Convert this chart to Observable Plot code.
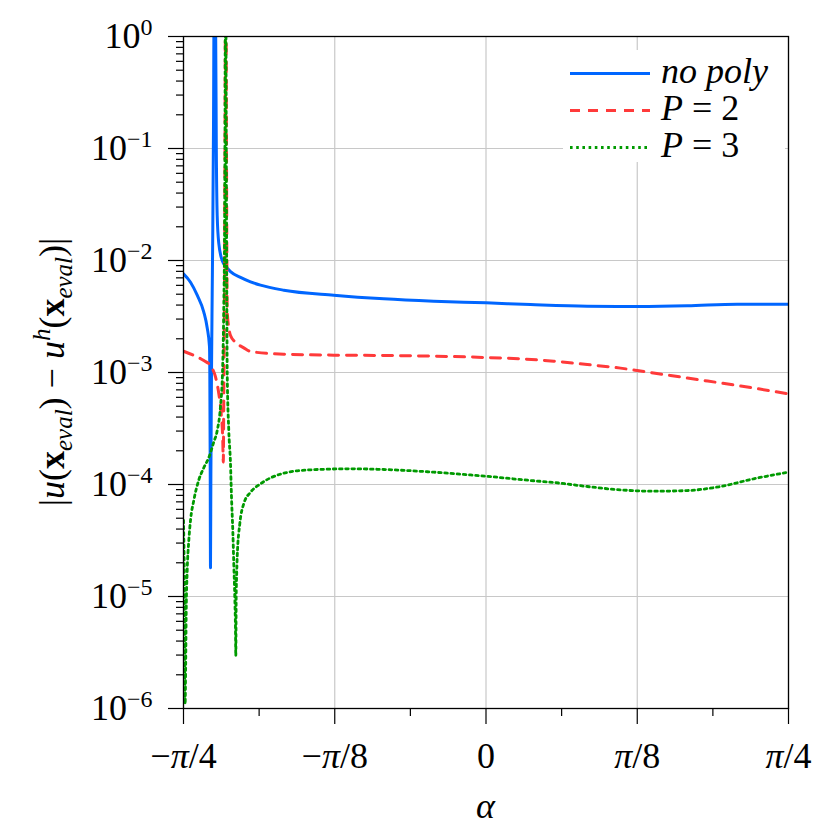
<!DOCTYPE html>
<html><head><meta charset="utf-8">
<script src="https://cdn.jsdelivr.net/npm/d3@7"></script>
<script src="https://cdn.jsdelivr.net/npm/@observablehq/plot@0.6"></script>
<style>
body{margin:0;background:#fff}
</style>
</head><body><div id="chart"></div>
<script>
// alpha in radians, error as log10 value
const noPolyAlpha = [-0.7854,-0.7672,-0.7498,-0.7327,-0.7239,-0.7179,-0.7171,-0.7161,-0.7153,-0.7143,-0.7127,-0.7109,-0.7093,-0.7075,-0.7059,-0.7038,-0.7018,-0.7002,-0.6979,-0.6937,-0.6849,-0.6738,-0.6634,-0.6374,-0.6114,-0.5855,-0.5250,-0.3952,-0.2653,-0.1355,0.0000,0.1156,0.2628,0.3926,0.5224,0.6522,0.7854];
const noPolyLogErr = [-2.119,-2.194,-2.31,-2.46,-2.60,-2.77,-3.0,-3.8,-4.744,-3.9,-3.0,-2.3,-1.7,-0.8,0.3,0.3,0.0,-1.0,-1.6,-1.85,-2.0,-2.06,-2.10,-2.15,-2.19,-2.22,-2.265,-2.31,-2.342,-2.363,-2.378,-2.393,-2.408,-2.411,-2.405,-2.39,-2.39];

const p2Alpha = [-0.7854,-0.7586,-0.7327,-0.7153,-0.7023,-0.6937,-0.6875,-0.6834,-0.6821,-0.6808,-0.6789,-0.6776,-0.6764,-0.6751,-0.6738,-0.6728,-0.6719,-0.6678,-0.6634,-0.6504,-0.6288,-0.6114,-0.5250,-0.3952,-0.2653,-0.1355,0.0000,0.0896,0.1761,0.2628,0.3492,0.3926,0.4790,0.5656,0.6522,0.7646,0.7854];
const p2LogErr = [-2.81,-2.848,-2.893,-2.94,-3.04,-3.19,-3.37,-3.61,-3.80,-3.2,-2.2,-1.0,0.3,0.3,-1.0,-2.0,-2.45,-2.6,-2.67,-2.73,-2.78,-2.8125,-2.837,-2.845,-2.848,-2.854,-2.866,-2.878,-2.899,-2.929,-2.961,-2.982,-3.027,-3.071,-3.116,-3.179,-3.192];

const p3Alpha = [-0.7854,-0.7830,-0.7812,-0.7797,-0.7784,-0.7758,-0.7716,-0.7672,-0.7586,-0.7457,-0.7327,-0.7197,-0.7067,-0.6979,-0.6893,-0.6841,-0.6808,-0.6789,-0.6776,-0.6767,-0.6756,-0.6743,-0.6733,-0.6728,-0.6719,-0.6678,-0.6634,-0.6608,-0.6574,-0.6548,-0.6522,-0.6504,-0.6496,-0.6486,-0.6473,-0.6460,-0.6392,-0.6288,-0.6114,-0.5855,-0.5250,-0.4557,-0.3518,-0.2653,-0.1355,0.0000,0.1156,0.1761,0.2628,0.3492,0.4357,0.5224,0.6088,0.6953,0.7854];
const p3LogErr = [-4.32,-4.95,-5.96,-5.6,-5.15,-4.77,-4.5,-4.32,-4.14,-3.96,-3.85,-3.76,-3.62,-3.52,-3.3,-3.0,-2.42,-1.82,-0.8,0.3,0.3,-1.0,-2.0,-2.42,-3.0,-3.52,-3.81,-4.11,-4.41,-4.71,-5.01,-5.30,-5.53,-5.0,-4.8,-4.65,-4.35,-4.17,-4.069,-3.994,-3.899,-3.869,-3.86,-3.866,-3.89,-3.926,-3.964,-3.982,-4.018,-4.048,-4.06,-4.054,-4.018,-3.949,-3.89];

const seriesNames = ["no poly", "P = 2", "P = 3"];
const seriesColors = ["#0066ff", "#ff3a3a", "#009a00"];

const xTickValues = [-Math.PI/4, -Math.PI/8, 0, Math.PI/8, Math.PI/4];
const xTickLabels = ["−π/4", "−π/8", "0", "π/8", "π/4"];
const xMinorTicks = [-3*Math.PI/16, -Math.PI/16, Math.PI/16, 3*Math.PI/16];
const yTickValues = [1e-6, 1e-5, 1e-4, 1e-3, 1e-2, 1e-1, 1];
const yTickExponents = ["−6", "−5", "−4", "−3", "−2", "−1", "0"];
const yMinorTicks = [];
for (let k = -6; k < 0; k++) for (let m = 2; m <= 9; m++) yMinorTicks.push(m * Math.pow(10, k));

const rows = (alpha, logErr) => alpha.map((a, i) => ({alpha: a, err: Math.pow(10, logErr[i])}));
const noPoly = rows(noPolyAlpha, noPolyLogErr);
const p2 = rows(p2Alpha, p2LogErr);
const p3 = rows(p3Alpha, p3LogErr);

const FONT = "Liberation Serif";
const grid = {stroke: "#c8c8c8", strokeOpacity: 1, strokeWidth: 1.2};
const DOT = "2.6,3.6", DASH = "10,8";

const plot = Plot.plot({
  width: 830, height: 830,
  marginLeft: 183, marginRight: 42, marginTop: 36, marginBottom: 122,
  style: {fontFamily: FONT, fontSize: "36px", background: "white"},
  x: {domain: [-Math.PI/4, Math.PI/4]},
  y: {type: "log", domain: [1e-6, 1]},
  marks: [
    Plot.gridX(xTickValues, grid),
    Plot.gridY(yTickValues, grid),
    Plot.line(noPoly, {x: "alpha", y: "err", stroke: seriesColors[0], strokeWidth: 3, curve: "monotone-x", clip: true}),
    Plot.line(p2, {x: "alpha", y: "err", stroke: seriesColors[1], strokeWidth: 3, strokeDasharray: DASH, curve: "monotone-x", clip: true}),
    Plot.line(p3, {x: "alpha", y: "err", stroke: seriesColors[2], strokeWidth: 2.8, strokeDasharray: DOT, curve: "monotone-x", clip: true}),
    Plot.frame({stroke: "black", strokeWidth: 1.3}),
    Plot.axisY(yMinorTicks, {anchor: "left", tickSize: 7, strokeWidth: 1.2, tickFormat: () => "", label: null}),
    Plot.axisY(yTickValues, {anchor: "left", tickSize: 15, tickPadding: 16, strokeWidth: 1.2, fontSize: 36, fontFamily: FONT,
      tickFormat: d => yTickExponents[yTickValues.indexOf(d)], label: null}),
    Plot.axisX(xMinorTicks, {anchor: "bottom", tickSize: 8, strokeWidth: 1.2, tickFormat: () => "", label: null}),
    Plot.axisX(xTickValues, {anchor: "bottom", tickSize: 16, tickPadding: 18, strokeWidth: 1.2, fontSize: 36, fontFamily: FONT,
      tickFormat: d => xTickLabels[xTickValues.indexOf(d)], label: null})
  ]
});
document.getElementById("chart").appendChild(plot);

const svg = d3.select(plot);

// y tick labels as 10^k
svg.selectAll('g[aria-label="y-axis tick label"] text').each(function() {
  const t = d3.select(this);
  const exp = t.text();
  if (!exp) return;
  t.text(null);
  t.append("tspan").text("10");
  t.append("tspan").attr("font-size", 24).attr("dy", -13).text(exp);
});
// x tick labels with italic pi
svg.selectAll('g[aria-label="x-axis tick label"] text').each(function() {
  const t = d3.select(this);
  const s = t.text();
  if (!s) return;
  t.text(null);
  for (const ch of s) {
    const sp = t.append("tspan").text(ch);
    if (ch === "π") sp.attr("font-style", "italic");
  }
});

// x axis label
svg.append("text").attr("x", 485.5).attr("y", 818).attr("text-anchor", "middle")
  .attr("font-family", FONT).attr("font-size", 36).attr("font-style", "italic").text("α");

// y axis label
const yl = svg.append("text").attr("transform", "translate(64,372) rotate(-90)")
  .attr("text-anchor", "middle").attr("font-family", FONT).attr("font-size", 36);
const parts = [
  ["|", {}], ["u", {"font-style": "italic"}], ["(", {}], ["x", {"font-weight": "bold"}],
  ["eval", {"font-style": "italic", "font-size": 25, dy: 8}], [")", {dy: -8}], [" − ", {}],
  ["u", {"font-style": "italic"}], ["h", {"font-style": "italic", "font-size": 25, dy: -14}],
  ["(", {dy: 14}], ["x", {"font-weight": "bold"}], ["eval", {"font-style": "italic", "font-size": 25, dy: 8}],
  [")", {dy: -8}], ["|", {}]
];
for (const [s, a] of parts) {
  const sp = yl.append("tspan").text(s);
  for (const k in a) sp.attr(k, a[k]);
}

// legend
const lg = svg.append("g");
lg.append("rect").attr("x", 563).attr("y", 50).attr("width", 222).attr("height", 112).attr("fill", "white");
const dashes = [null, DASH, DOT];
seriesNames.forEach((name, i) => {
  const y = 73.5 + i * 37;
  lg.append("line").attr("x1", 570).attr("x2", 650).attr("y1", y).attr("y2", y)
    .attr("stroke", seriesColors[i]).attr("stroke-width", i === 2 ? 2.8 : 3)
    .attr("stroke-dasharray", dashes[i]);
  const t = lg.append("text").attr("x", 661).attr("y", y + 9).attr("text-anchor", "start")
    .attr("font-family", FONT).attr("font-size", 36);
  if (i === 0) t.append("tspan").attr("font-style", "italic").text("no poly");
  else {
    t.append("tspan").attr("font-style", "italic").text("P");
    t.append("tspan").text(" = " + name.split("= ")[1]);
  }
});
</script></body></html>
